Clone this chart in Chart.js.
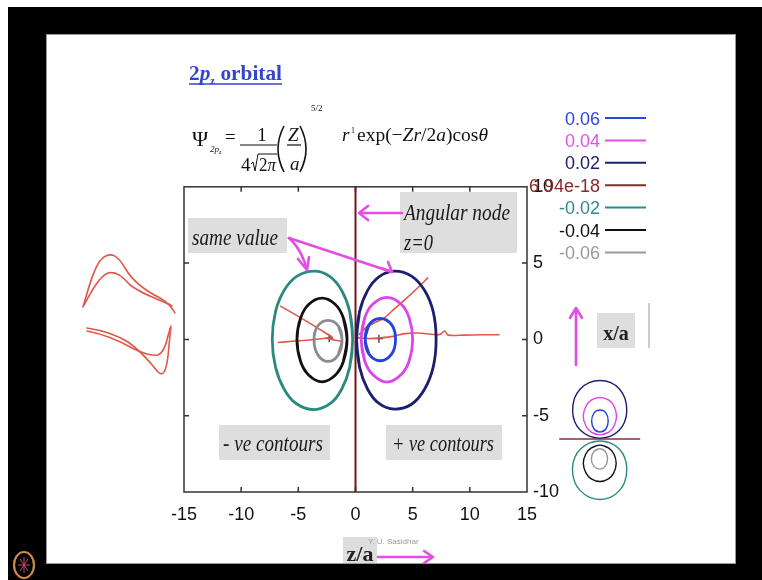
<!DOCTYPE html>
<html>
<head>
<meta charset="utf-8">
<script src="https://cdn.jsdelivr.net/npm/chart.js@4.4.0/dist/chart.umd.min.js"></script>
<style>
  body { margin: 0; width: 762px; height: 580px; background: #fff; position: relative; overflow: hidden; }
  #frame { position: absolute; left: 8px; top: 7px; width: 754px; height: 573px; background: #000; }
  #slide { position: absolute; left: 46px; top: 34px; width: 688px; height: 528px; background: #fff; border: 1px solid #999; }
  canvas { position: absolute; }
  svg { position: absolute; left: 0; top: 0; }
</style>
</head>
<body>
<div id="frame"></div>
<div id="slide"></div>
<canvas id="main" width="440" height="365" style="left:140px;top:170px"></canvas>
<canvas id="inset" width="110" height="135" style="left:545px;top:370px"></canvas>

<svg width="762" height="580" font-family="Liberation Serif">
  <!-- title -->
  <text x="189" y="80" font-size="20" font-weight="bold" fill="#3444cc" textLength="93" lengthAdjust="spacingAndGlyphs">2<tspan font-style="italic">p</tspan><tspan font-size="10" dy="4">z</tspan><tspan dy="-4"> orbital</tspan></text>
  <line x1="189" y1="84" x2="282" y2="84" stroke="#3444cc" stroke-width="1.3"/>

  <!-- formula -->
  <g fill="#111">
    <text x="192" y="146" font-size="22">Ψ</text>
    <text x="210" y="152" font-size="9" font-style="italic">2p<tspan font-size="6" dy="2">z</tspan></text>
    <text x="225" y="143" font-size="19">=</text>
    <text x="262" y="141" font-size="19" text-anchor="middle">1</text>
    <text x="241" y="171" font-size="19">4</text>
    <text x="259" y="171" font-size="19" textLength="17" lengthAdjust="spacingAndGlyphs">2<tspan font-style="italic">π</tspan></text>
    <text x="288" y="141" font-size="19" font-style="italic">Z</text>
    <text x="290" y="170" font-size="19" font-style="italic">a</text>
    <text x="311" y="111" font-size="9">5/2</text>
    <text x="342" y="141" font-size="19" font-style="italic">r</text>
    <text x="351" y="133" font-size="8">1</text>
    <text x="357" y="141" font-size="19" textLength="131" lengthAdjust="spacingAndGlyphs">exp(−<tspan font-style="italic">Zr</tspan>/2<tspan font-style="italic">a</tspan>)cos<tspan font-style="italic">θ</tspan></text>
  </g>
  <g stroke="#111" fill="none">
    <line x1="240" y1="145" x2="277" y2="145" stroke-width="1.2"/>
    <polyline points="251,164 253,162 255,171 258,154 277,154" stroke-width="1"/>
    <line x1="287" y1="145" x2="301" y2="145" stroke-width="1.2"/>
    <path d="M284,126 Q272,149 284,172" stroke-width="1.6"/>
    <path d="M300,126 Q312,149 300,172" stroke-width="1.6"/>
  </g>

  <!-- annotation boxes -->
  <g fill="#dedede">
    <rect x="188" y="218" width="99" height="35"/>
    <rect x="400" y="192" width="117" height="61"/>
    <rect x="219" y="425" width="111" height="35"/>
    <rect x="386" y="425" width="116" height="35"/>
    <rect x="597" y="313" width="38" height="35"/>
    <rect x="343" y="537" width="34" height="26"/>
  </g>
  <g fill="#1a1a1a" font-style="italic" font-size="23">
    <text x="192" y="245" textLength="86" lengthAdjust="spacingAndGlyphs">same value</text>
    <text x="404" y="220" textLength="106" lengthAdjust="spacingAndGlyphs">Angular node</text>
    <text x="404" y="250" textLength="29" lengthAdjust="spacingAndGlyphs">z=0</text>
    <text x="223" y="451" textLength="100" lengthAdjust="spacingAndGlyphs">- ve contours</text>
    <text x="392" y="451" textLength="102" lengthAdjust="spacingAndGlyphs">+ ve contours</text>
  </g>
  <text x="616" y="340" font-size="20" font-weight="bold" text-anchor="middle" fill="#222">x/a</text>
  <text x="360" y="561" font-size="22" font-weight="bold" text-anchor="middle" fill="#222">z/a</text>
  <text x="368" y="544" font-size="8" fill="#9a9a9a" font-family="Liberation Sans">Y. U. Sasidhar</text>
  <line x1="649" y1="303" x2="649" y2="348" stroke="#bbb" stroke-width="1.5"/>

  <!-- magenta arrows -->
  <g stroke="#e24ee4" stroke-width="2.6" fill="none" stroke-linecap="round" stroke-linejoin="round">
    <line x1="402" y1="213" x2="360" y2="213"/>
    <polyline points="368,206 359,213 368,220"/>
    <path d="M289,238 Q302,250 307,270"/>
    <polyline points="298,259 307,270 309,257"/>
    <line x1="289" y1="238" x2="392" y2="272"/>
    <polyline points="381,268 392,272 388,262"/>
    <line x1="576" y1="365" x2="576" y2="310"/>
    <polyline points="570,318 576,308 582,318"/>
    <line x1="378" y1="557" x2="432" y2="557"/>
    <polyline points="424,551 433,557 424,563"/>
  </g>

  <!-- freehand doodles on the left -->
  <g stroke="#e2574a" stroke-width="1.6" fill="none" stroke-linejoin="round" stroke-linecap="round">
    <path d="M83,307 C88,290 95,262 104,257 C112,252 118,256 125,268 C133,282 148,292 160,298 C168,303 172,307 175,313"/>
    <path d="M84,305 C92,290 100,276 108,273 C116,271 122,276 130,285 C142,294 155,298 166,303 C169,304 171,305 172,306"/>
    <path d="M87,328 C100,330 115,334 128,342 C140,350 150,362 158,372 C163,377 166,372 168,356 C169,345 170,335 171,326"/>
    <path d="M87,331 C102,334 118,340 132,348 C144,354 152,356 158,355 C163,353 166,345 168,336 C169,332 170,330 170,328"/>
  </g>

  <!-- logo -->
  <ellipse cx="24" cy="565" rx="10" ry="13" stroke="#c98a48" stroke-width="2.2" fill="none"/>
  <g stroke="#c04868" stroke-width="1">
    <line x1="18" y1="565" x2="30" y2="565"/>
    <line x1="24" y1="557" x2="24" y2="573"/>
    <line x1="20" y1="559" x2="28" y2="571"/>
    <line x1="28" y1="559" x2="20" y2="571"/>
  </g>

  <g id="legend" font-family="'Liberation Sans Narrow','Liberation Sans',Arial" font-size="18"></g>
</svg>

<script>
// contour levels and their colours (legend order)
const levels = ["0.06", "0.04", "0.02", "6.94e-18", "-0.02", "-0.04", "-0.06"];
const levelColors = ["#2d45e0", "#e050ee", "#1e216e", "#8a2828", "#2e8c84", "#111111", "#999aa0"];

const xTicks = [-15, -10, -5, 0, 5, 10, 15];
const yTicks = [-10, -5, 0, 5, 10];

// contour outlines, [z/a, x/a]
const c006 = [[0.85,0],[1.17,0.95],[2.17,1.37],[3.17,0.95],[3.5,0],[3.17,-0.95],[2.17,-1.4],[1.17,-0.95],[0.85,0]];
const c004 = [[0.5,0],[0.8,1.4],[1.5,2.3],[2.75,2.75],[4.0,2.3],[4.7,1.4],[5.0,0],[4.7,-1.4],[4.0,-2.3],[2.75,-2.8],[1.5,-2.3],[0.8,-1.4],[0.5,0]];
const c002 = [[0.1,0],[0.35,1.8],[1.05,3.2],[2.05,4.1],[3.4,4.47],[4.9,4.15],[6.05,3.2],[6.8,1.8],[7.05,0],[6.8,-1.8],[6.05,-3.25],[4.9,-4.25],[3.4,-4.57],[2.05,-4.2],[1.05,-3.25],[0.35,-1.8],[0.1,0]];
const nodeLine = [[0,-10],[0,10]];
const cm002 = [[-0.25,0],[-0.5,1.8],[-1.2,3.2],[-2.2,4.1],[-3.6,4.47],[-5.2,4.1],[-6.25,3.2],[-7.0,1.8],[-7.28,0],[-7.0,-1.8],[-6.25,-3.25],[-5.2,-4.2],[-3.6,-4.6],[-2.2,-4.2],[-1.2,-3.25],[-0.5,-1.8],[-0.25,0]];
const cm004 = [[-0.74,0],[-1.06,1.4],[-1.78,2.3],[-2.93,2.7],[-4.08,2.3],[-4.8,1.4],[-5.12,0],[-4.8,-1.45],[-4.08,-2.35],[-2.93,-2.78],[-1.78,-2.35],[-1.06,-1.45],[-0.74,0]];
const cm006 = [[-1.18,0],[-1.5,0.88],[-2.4,1.25],[-3.3,0.88],[-3.63,0],[-3.3,-1.0],[-2.4,-1.44],[-1.5,-1.0],[-1.18,0]];

// red pen scribbles on top of the plot
const penAxisL = [[-6.8,-0.2],[-5.5,-0.12],[-4.6,-0.07],[-3.5,0.0],[-2.5,0.07],[-1.8,-0.05],[-1.1,-0.13]];
const penAxisR = [[0.2,0.1],[1.2,0.05],[2.2,0.1],[3.3,0.2],[4.3,0.38],[5.5,0.42],[6.8,0.32],[7.4,0.33],[7.8,0.55],[8.1,0.28],[9.5,0.28],[11,0.3],[12.6,0.3]];
const penLeft = [[-6.6,2.2],[-4.3,1.2],[-2.0,0.13]];
const penRight = [[0.3,0.3],[0.9,0.75],[1.7,1.1],[2.5,1.4],[3.4,2.0],[4.4,2.65],[5.4,3.35],[6.35,4.05]];
const centres = [[2.05,0.05],[-2.3,0.08]];

// inset: same contours seen the other way round
const insetNode = [[0,-6.8],[0,6.7]];

const toPts = a => a.map(p => ({ x: p[0], y: p[1] }));
const swap = a => a.map(p => ({ x: p[1], y: p[0] }));
// closed outline: repeat the neighbours so the spline has no corner where it joins
const loop = a => [a[a.length - 2], ...a, a[1]];

const lineDs = (data, color, width, tension) => ({
  data, borderColor: color, borderWidth: width, showLine: true,
  pointRadius: 0, tension: tension, fill: false
});

// legend
const lg = document.getElementById("legend");
levels.forEach((lv, i) => {
  const y = 118 + i * 22.4;
  lg.insertAdjacentHTML("beforeend",
    `<text x="600" y="${y + 6.5}" text-anchor="end" fill="${levelColors[i]}">${lv}</text>` +
    `<line x1="605" y1="${y}" x2="646" y2="${y}" stroke="${levelColors[i]}" stroke-width="2"/>`);
});

// frame + inward ticks
const boxPlugin = {
  id: "box",
  beforeDatasetsDraw(chart) {
    const { ctx, chartArea: a, scales: { x, y } } = chart;
    ctx.save();
    ctx.strokeStyle = "#333";
    ctx.lineWidth = 1.5;
    ctx.strokeRect(a.left, a.top, a.right - a.left, a.bottom - a.top);
    ctx.beginPath();
    x.ticks.forEach(t => {
      const px = x.getPixelForValue(t.value);
      if (px <= a.left + 1 || px >= a.right - 1) return;
      ctx.moveTo(px, a.bottom); ctx.lineTo(px, a.bottom - 5);
      ctx.moveTo(px, a.top); ctx.lineTo(px, a.top + 5);
    });
    y.ticks.forEach(t => {
      const py = y.getPixelForValue(t.value);
      if (py <= a.top + 1 || py >= a.bottom - 1) return;
      ctx.moveTo(a.left, py); ctx.lineTo(a.left + 5, py);
      ctx.moveTo(a.right, py); ctx.lineTo(a.right - 5, py);
    });
    ctx.stroke();
    ctx.restore();
  }
};

const tickFont = { family: "'Liberation Sans Narrow','Liberation Sans',Arial", size: 18 };

const mainSets = [
  lineDs(toPts(loop(c002)), "#1c1f6e", 2.8, 0.4),
  lineDs(toPts(loop(c004)), "#dc44ec", 2.8, 0.4),
  lineDs(toPts(loop(c006)), "#2344dc", 2.8, 0.4),
  lineDs(toPts(loop(cm002)), "#2a8a80", 2.8, 0.4),
  lineDs(toPts(loop(cm004)), "#111", 2.8, 0.4),
  lineDs(toPts(loop(cm006)), "#8a8a90", 2.8, 0.4),
  lineDs(toPts(nodeLine), "#701818", 2, 0),
  lineDs(toPts(penAxisL), "#e2574a", 1.6, 0.3),
  lineDs(toPts(penAxisR), "#e2574a", 1.6, 0.3),
  lineDs(toPts(penLeft), "#e2574a", 1.6, 0.3),
  lineDs(toPts(penRight), "#e2574a", 1.6, 0.3),
  { data: toPts(centres), showLine: false, pointStyle: "cross", pointRadius: 4,
    borderColor: "#222", borderWidth: 1.2 }
];

new Chart(document.getElementById("main"), {
  type: "scatter",
  data: { datasets: mainSets },
  options: {
    responsive: false,
    animation: false,
    layout: { padding: { left: 44, top: 16, right: 0, bottom: 0 } },
    plugins: { legend: { display: false }, tooltip: { enabled: false } },
    scales: {
      x: {
        type: "linear", min: xTicks[0], max: xTicks[xTicks.length - 1],
        afterBuildTicks: s => { s.ticks = xTicks.map(v => ({ value: v })); },
        ticks: { font: tickFont, color: "#111", padding: 12 },
        grid: { display: false, drawTicks: false },
        border: { display: false },
        afterFit: s => { s.height = 43; }
      },
      y: {
        type: "linear", position: "right", min: yTicks[0], max: yTicks[yTicks.length - 1],
        afterBuildTicks: s => { s.ticks = yTicks.map(v => ({ value: v })); },
        ticks: { font: tickFont, color: "#111", padding: 6 },
        grid: { display: false, drawTicks: false },
        border: { display: false },
        afterFit: s => { s.width = 53; }
      }
    }
  },
  plugins: [boxPlugin]
});

const insetSets = [
  lineDs(swap(loop(c002)), "#1c1f6e", 1.4, 0.4),
  lineDs(swap(loop(c004)), "#dc44ec", 1.4, 0.4),
  lineDs(swap(loop(c006)), "#2344dc", 1.4, 0.4),
  lineDs(swap(loop(cm002)), "#2a8a80", 1.4, 0.4),
  lineDs(swap(loop(cm004)), "#111", 1.4, 0.4),
  lineDs(swap(loop(cm006)), "#999", 1.4, 0.4),
  lineDs(swap(insetNode), "#8a3030", 1.6, 0)
];

new Chart(document.getElementById("inset"), {
  type: "scatter",
  data: { datasets: insetSets },
  options: {
    responsive: false,
    animation: false,
    layout: { padding: 0 },
    plugins: { legend: { display: false }, tooltip: { enabled: false } },
    scales: {
      x: { type: "linear", min: -9.17, max: 9.17, display: false },
      y: { type: "linear", min: -7.95, max: 8.31, display: false }
    }
  }
});
</script>
</body>
</html>
